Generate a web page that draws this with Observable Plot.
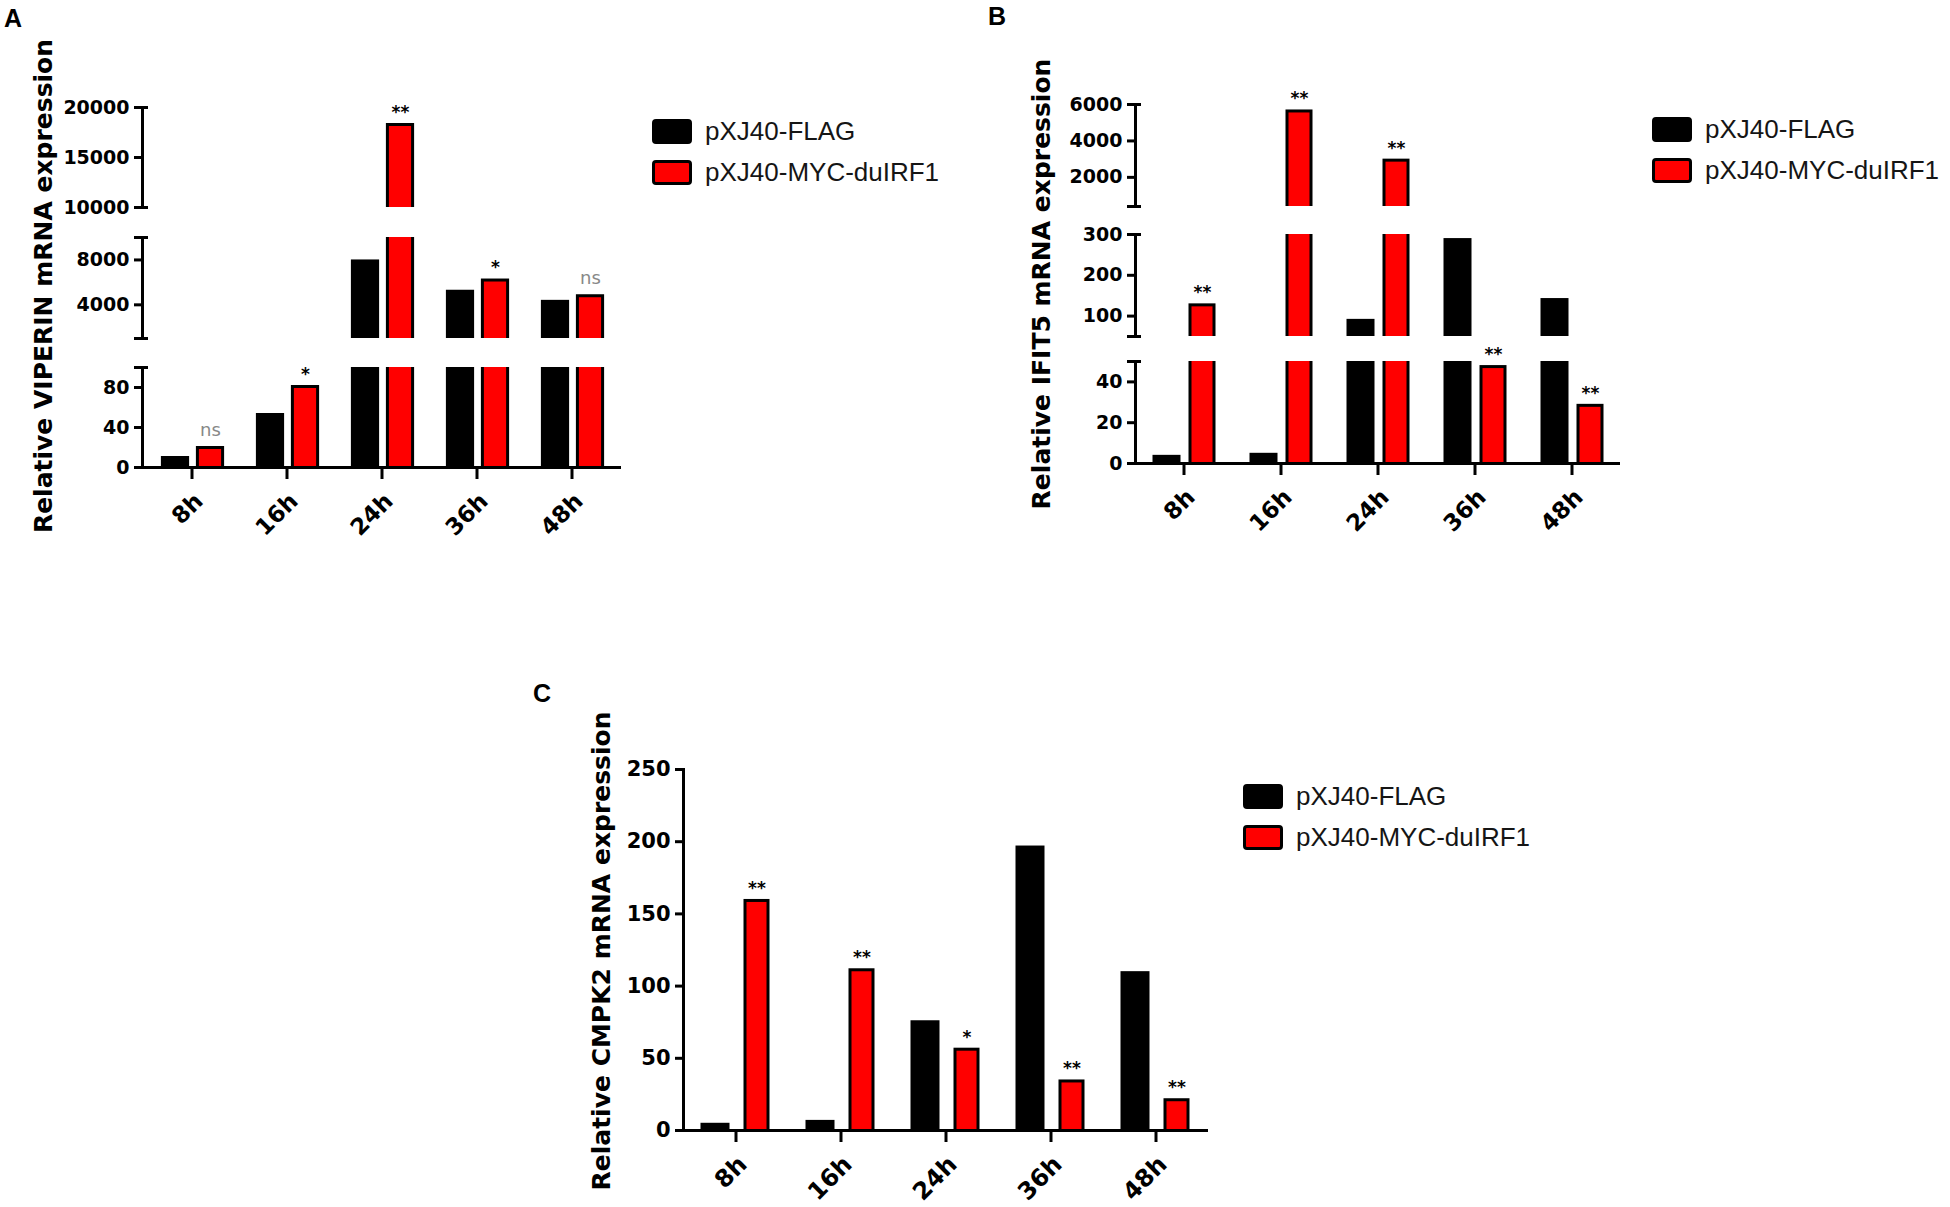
<!DOCTYPE html>
<html>
<head>
<meta charset="utf-8">
<script src="https://cdn.jsdelivr.net/npm/d3@7"></script>
<script src="https://cdn.jsdelivr.net/npm/@observablehq/plot@0.6"></script>
<style>
  html, body { margin: 0; padding: 0; background: #fff; }
  #root { position: relative; width: 1950px; height: 1207px; overflow: hidden; background: #fff; }
  .seg { position: absolute; }
  .ytitle { position: absolute; white-space: nowrap; font: bold 25px "DejaVu Sans", sans-serif; line-height: 25px; color: #000;
            transform: translate(-50%, -50%) rotate(-90deg); }
  .plabel { position: absolute; font: bold 25px "Liberation Sans", Arial, sans-serif; line-height: 25px; color: #000; }
  .legend { position: absolute; }
  .legend .item { display: flex; align-items: center; height: 41px; }
  .legend .sw { width: 34px; height: 19px; border: 3px solid #000; border-radius: 4px; margin-right: 13px; }
  .legend .lab { font: 26px "Liberation Sans", Arial, sans-serif; color: #151515; white-space: nowrap; }
</style>
</head>
<body>
<div id="root"></div>
<script>
// ---------- data ----------
const times = ["8h", "16h", "24h", "36h", "48h"];
const seriesNames = ["pXJ40-FLAG", "pXJ40-MYC-duIRF1"];
const seriesColors = ["#000000", "#ff0000"];

// Panel A: VIPERIN
const viperinFlag = [11, 54, 8000, 5300, 4400];
const viperinMyc = [21, 82, 18400, 6300, 4900];
const viperinSig = ["ns", "*", "**", "*", "ns"];
const viperinBreaks = [[10000, 20000], [1000, 10000], [0, 100]];
const viperinTickLabels = [[10000, 15000, 20000], [4000, 8000], [0, 40, 80]];

// Panel B: IFIT5
const ifit5Flag = [4, 5, 92, 290, 143];
const ifit5Myc = [130, 5700, 3000, 48, 29];
const ifit5Sig = ["**", "**", "**", "**", "**"];
const ifit5Breaks = [[400, 6000], [50, 300], [0, 50]];
const ifit5TickLabels = [[2000, 4000, 6000], [100, 200, 300], [0, 20, 40]];

// Panel C: CMPK2
const cmpk2Flag = [5, 7, 76, 197, 110];
const cmpk2Myc = [160, 112, 57, 35, 22];
const cmpk2Sig = ["**", "**", "*", "**", "**"];
const cmpk2Breaks = [[0, 250]];
const cmpk2TickLabels = [[0, 50, 100, 150, 200, 250]];

function buildRows(flag, myc, sig) {
  const out = [];
  times.forEach((t, i) => {
    out.push({time: t, series: seriesNames[0], value: flag[i], sig: ""});
    out.push({time: t, series: seriesNames[1], value: myc[i], sig: sig[i]});
  });
  return out;
}

const panels = [
  {
    id: "A", title: "Relative VIPERIN mRNA expression",
    rows: buildRows(viperinFlag, viperinMyc, viperinSig),
    breaks: viperinBreaks, tickLabels: viperinTickLabels,
    xStart: 142, xEnd: 621, segTops: [107, 237, 367], segBottoms: [207, 338, 467],
    black: [-31, -2], red: [4, 33], tickFont: 19, xFont: 23,
    label: {x: 4, y: 6}, titlePos: {x: 43, y: 286},
    legend: {x: 652, y: 111}
  },
  {
    id: "B", title: "Relative IFIT5 mRNA expression",
    rows: buildRows(ifit5Flag, ifit5Myc, ifit5Sig),
    breaks: ifit5Breaks, tickLabels: ifit5TickLabels,
    xStart: 1135, xEnd: 1620, segTops: [104, 234, 361], segBottoms: [206, 336, 463],
    black: [-31, -3], red: [5, 32], tickFont: 19, xFont: 23,
    label: {x: 988, y: 4}, titlePos: {x: 1041, y: 284},
    legend: {x: 1652, y: 109}
  },
  {
    id: "C", title: "Relative CMPK2 mRNA expression",
    rows: buildRows(cmpk2Flag, cmpk2Myc, cmpk2Sig),
    breaks: cmpk2Breaks, tickLabels: cmpk2TickLabels,
    xStart: 683, xEnd: 1208, segTops: [769], segBottoms: [1130],
    black: [-35, -6], red: [8, 34], tickFont: 21, xFont: 24,
    label: {x: 533, y: 681}, titlePos: {x: 601, y: 951},
    legend: {x: 1243, y: 776}
  }
];

const root = document.getElementById("root");

function segmentPlot(p, k) {
  const [lo, hi] = p.breaks[k];
  const labeled = p.tickLabels[k];
  const tickVals = Array.from(new Set([lo, ...labeled, hi])).sort((a, b) => a - b);
  const isBottom = k === p.breaks.length - 1;
  const broken = p.breaks.length > 1;
  const top = p.segTops[k], bottom = p.segBottoms[k];
  const mL = 120, mR = 14, mT = 44, mB = isBottom ? 110 : 6;
  const inner = p.xEnd - p.xStart;
  const bw = inner / times.length;
  const width = inner + mL + mR;
  const height = (bottom - top) + mT + mB;
  const sw = 3;

  const visible = p.rows.filter(d => d.value > lo);
  const blackRows = visible.filter(d => d.series === seriesNames[0]);
  const redRows = visible.filter(d => d.series === seriesNames[1]);
  const redOpen = redRows.filter(d => d.value > hi);     // continues through the break
  const redClosed = redRows.filter(d => d.value <= hi);  // top of bar inside this segment
  const ann = p.rows.filter(d => d.sig && d.value > lo && d.value <= hi);
  const annNs = ann.filter(d => d.sig === "ns");
  const annStar = ann.filter(d => d.sig !== "ns");
  const redCenter = (p.red[0] + p.red[1]) / 2;

  const blackIns = {insetLeft: bw / 2 + p.black[0], insetRight: bw / 2 - p.black[1]};
  const redOuter = {insetLeft: bw / 2 + p.red[0], insetRight: bw / 2 - p.red[1]};
  const redInner = {insetLeft: bw / 2 + p.red[0] + sw, insetRight: bw / 2 - p.red[1] + sw};

  const marks = [
    Plot.barY(blackRows, {x: "time", y1: () => lo, y2: "value", fill: seriesColors[0], ...blackIns}),
    Plot.barY(redRows, {x: "time", y1: () => lo, y2: "value", fill: "#000", ...redOuter}),
    Plot.barY(redClosed, {x: "time", y1: () => lo, y2: "value", fill: seriesColors[1], insetTop: sw, ...redInner}),
    Plot.barY(redOpen, {x: "time", y1: () => lo, y2: "value", fill: seriesColors[1], ...redInner}),
    Plot.frame({anchor: "left", strokeWidth: 3}),
    Plot.axisY({
      ticks: tickVals,
      tickFormat: d => labeled.includes(d) ? String(d) : "",
      tickSize: 8, tickPadding: 5, strokeWidth: 3,
      fontSize: p.tickFont, fontWeight: "bold", label: null
    }),
    Plot.text(annNs, {x: "time", y: "value", text: "sig", dx: redCenter, dy: -16,
      fill: "#888", fontSize: 18, fontWeight: "normal"}),
    Plot.text(annStar, {x: "time", y: "value", text: "sig", dx: redCenter, dy: -11,
      fill: "#000", fontSize: 17, fontWeight: "bold"})
  ];
  if (broken) {
    const caps = isBottom ? [hi] : [lo, hi];
    marks.push(Plot.tickY(caps, {y: d => d, strokeWidth: 3, insetRight: inner - 6}));
  }
  if (isBottom) {
    marks.push(Plot.ruleY([lo], {strokeWidth: 3}));
    // tick marks only
    marks.push(Plot.axisX({tickSize: 12, strokeWidth: 3, tickFormat: () => "", label: null}));
    // rotated labels, shifted slightly right of the ticks
    marks.push(Plot.axisX({
      tickRotate: -45, tickSize: 0, tickPadding: 30, dx: 7,
      fontSize: p.xFont, fontWeight: "bold", label: null
    }));
  }

  const chart = Plot.plot({
    width, height,
    marginLeft: mL, marginRight: mR, marginTop: mT, marginBottom: mB,
    x: {type: "band", domain: times, padding: 0, axis: null},
    y: {domain: [lo, hi], clamp: true, axis: null},
    style: {background: "transparent", color: "#000", fontFamily: "DejaVu Sans, sans-serif", overflow: "visible"},
    marks
  });
  chart.classList.add("seg");
  chart.style.left = (p.xStart - mL) + "px";
  chart.style.top = (top - mT) + "px";
  root.appendChild(chart);
}

panels.forEach(p => {
  p.breaks.forEach((_, k) => segmentPlot(p, k));

  const lab = document.createElement("div");
  lab.className = "plabel";
  lab.textContent = p.id;
  lab.style.left = p.label.x + "px";
  lab.style.top = p.label.y + "px";
  root.appendChild(lab);

  const t = document.createElement("div");
  t.className = "ytitle";
  t.textContent = p.title;
  t.style.left = p.titlePos.x + "px";
  t.style.top = p.titlePos.y + "px";
  root.appendChild(t);

  const lg = document.createElement("div");
  lg.className = "legend";
  lg.style.left = p.legend.x + "px";
  lg.style.top = p.legend.y + "px";
  seriesNames.forEach((name, i) => {
    const it = document.createElement("div");
    it.className = "item";
    const s = document.createElement("div");
    s.className = "sw";
    s.style.background = seriesColors[i];
    const l = document.createElement("div");
    l.className = "lab";
    l.textContent = name;
    it.appendChild(s); it.appendChild(l);
    lg.appendChild(it);
  });
  root.appendChild(lg);
});
</script>
</body>
</html>
